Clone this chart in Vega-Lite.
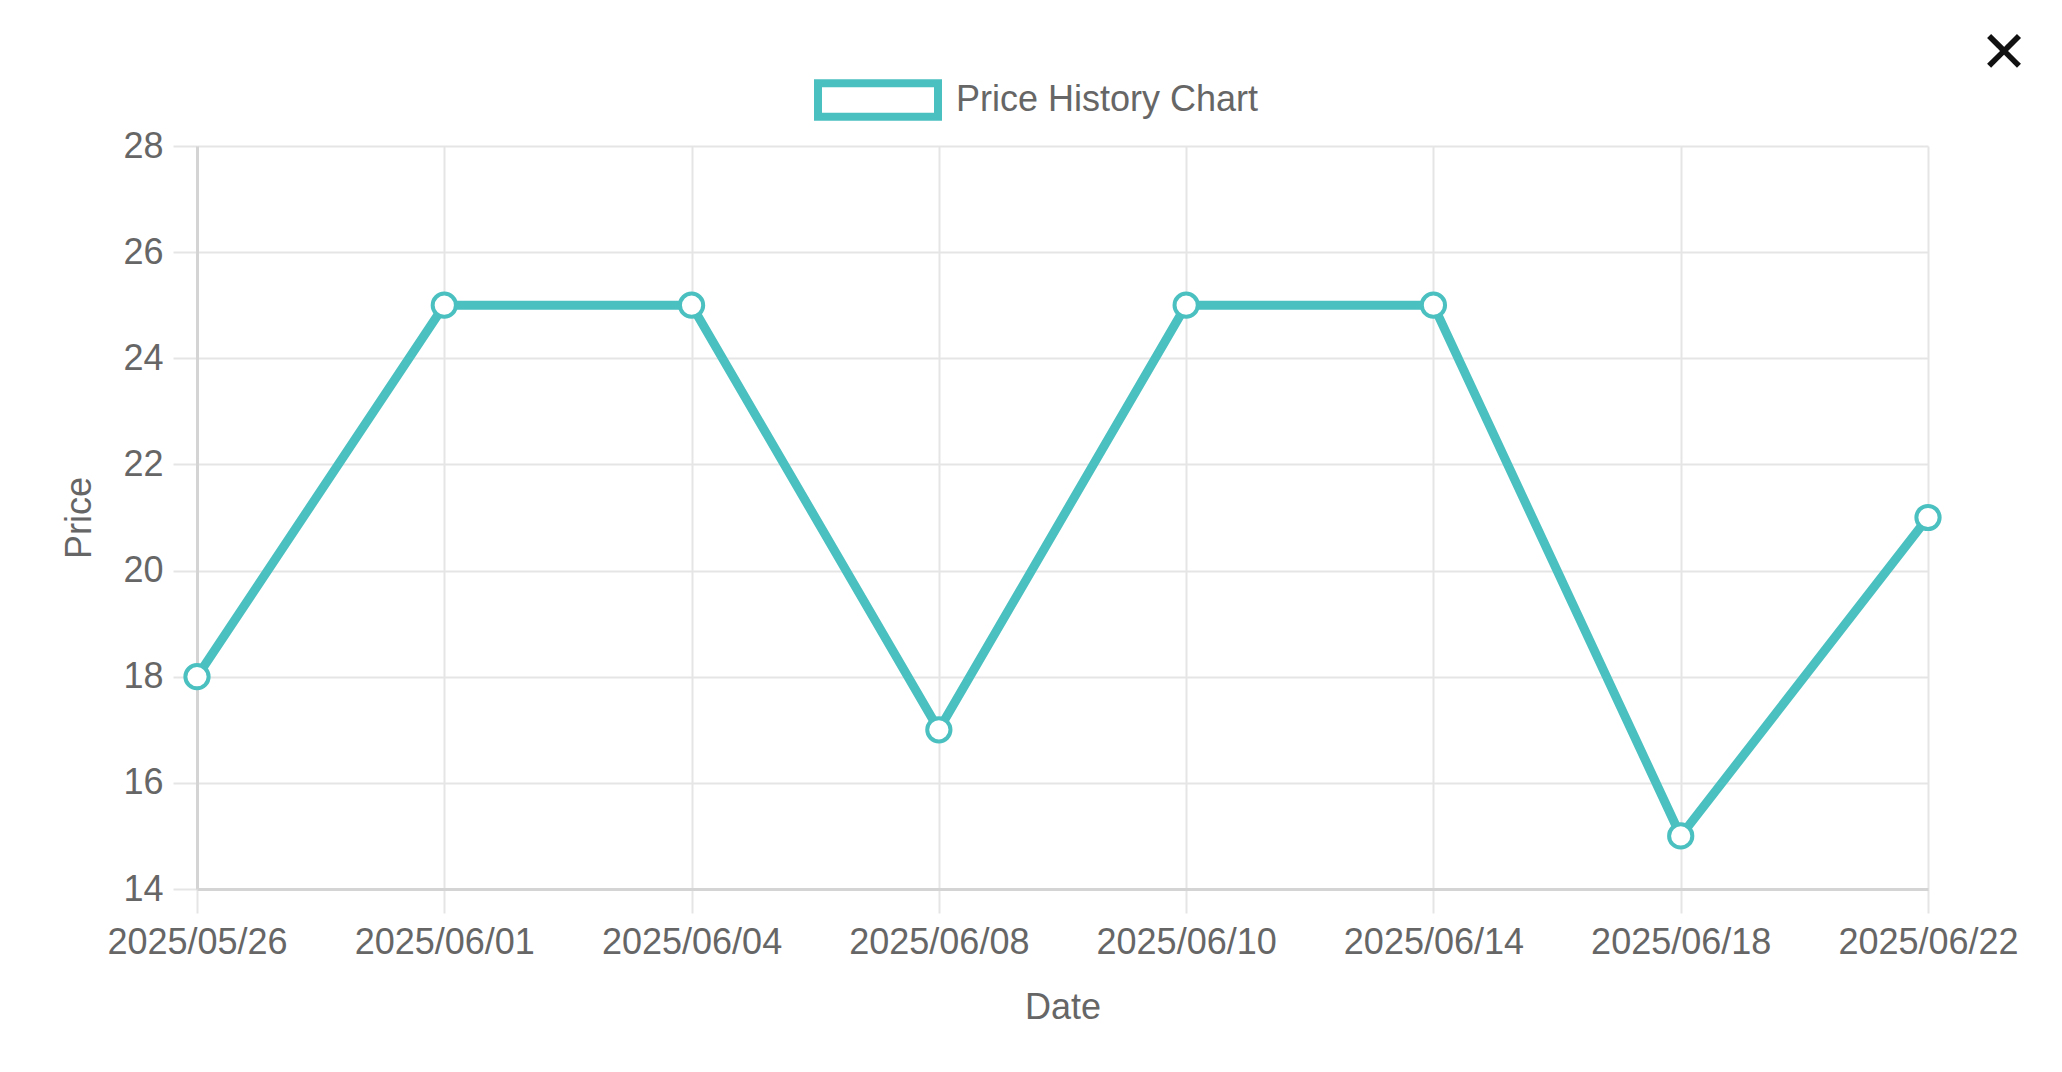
{
  "$schema": "https://vega.github.io/schema/vega-lite/v6.json",
  "width": 1731,
  "height": 743,
  "autosize": {"type": "none"},
  "padding": {"left": 197, "top": 146, "right": 134, "bottom": 183},
  "background": "white",
  "title": {
    "text": "✕",
    "anchor": "end",
    "frame": "group",
    "align": "center",
    "baseline": "middle",
    "dx": 76,
    "dy": 77,
    "offset": 0,
    "fontSize": 58,
    "font": "DejaVu Sans",
    "fontWeight": "bold",
    "color": "#111111"
  },
  "data": {
    "values": [
      {"date": "2025/05/26", "price": 18},
      {"date": "2025/06/01", "price": 25},
      {"date": "2025/06/04", "price": 25},
      {"date": "2025/06/08", "price": 17},
      {"date": "2025/06/10", "price": 25},
      {"date": "2025/06/14", "price": 25},
      {"date": "2025/06/18", "price": 15},
      {"date": "2025/06/22", "price": 21}
    ]
  },
  "encoding": {
    "x": {
      "field": "date",
      "type": "ordinal",
      "sort": null,
      "scale": {"type": "point", "padding": 0},
      "title": "Date",
      "axis": {"labelAngle": 0, "labelPadding": 12, "titlePadding": 30, "grid": true, "labelLimit": 0}
    },
    "y": {
      "field": "price",
      "type": "quantitative",
      "scale": {"domain": [14, 28], "nice": false, "zero": false},
      "title": "Price",
      "axis": {"values": [14, 16, 18, 20, 22, 24, 26, 28], "labelPadding": 10, "titlePadding": 24, "grid": true}
    },
    "color": {
      "datum": "Price History Chart",
      "scale": {"range": ["#4bc0c0"]},
      "legend": {
        "orient": "none",
        "legendX": 617,
        "legendY": -110,
        "title": null,
        "symbolType": "M-1,-0.28L1,-0.28L1,0.28L-1,0.28Z",
        "symbolSize": 14400,
        "symbolStrokeWidth": 8,
        "symbolFillColor": "white",
        "symbolStrokeColor": "#4bc0c0",
        "symbolOpacity": 1,
        "labelFont": "Liberation Sans",
        "labelFontSize": 36,
        "labelColor": "#666666",
        "labelOffset": 14,
        "labelLimit": 0
      }
    }
  },
  "layer": [
    {"mark": {"type": "line", "strokeWidth": 9}},
    {"mark": {"type": "point", "filled": false, "fill": "white", "fillOpacity": 1, "opacity": 1, "size": 540, "strokeWidth": 4}}
  ],
  "config": {
    "view": {"stroke": null},
    "axis": {
      "labelFont": "Liberation Sans",
      "labelFontSize": 36,
      "labelColor": "#666666",
      "titleFont": "Liberation Sans",
      "titleFontSize": 36,
      "titleColor": "#666666",
      "titleFontWeight": "normal",
      "gridColor": "#e5e5e5",
      "gridWidth": 2,
      "tickColor": "#e5e5e5",
      "tickWidth": 2,
      "tickSize": 24,
      "domainColor": "#d4d4d4",
      "domainWidth": 3
    }
  }
}
